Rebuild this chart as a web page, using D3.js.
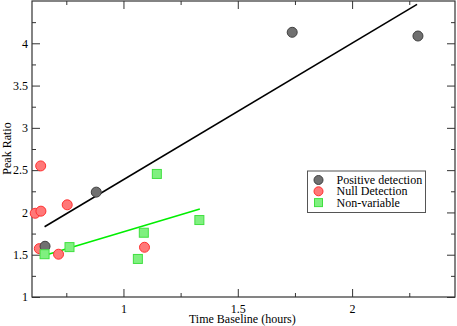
<!DOCTYPE html>
<html>
<head>
<meta charset="utf-8">
<script src="https://cdn.jsdelivr.net/npm/d3@7"></script>
<style>
  body { margin: 0; background: #fff; }
  text { font-family: "Liberation Serif", "DejaVu Serif", serif; }
</style>
</head>
<body>
<div id="chart"></div>
<script>
var svgWidth = 457;
var svgHeight = 326;

// data
var positiveX = [0.657, 0.881, 1.738, 2.288];
var positiveY = [1.60, 2.24, 4.13, 4.086];

var nullX = [0.638, 0.614, 0.639, 0.754, 0.632, 0.716, 1.092];
var nullY = [2.55, 1.99, 2.015, 2.09, 1.572, 1.506, 1.588];

var nonVarX = [0.655, 0.764, 1.063, 1.089, 1.146, 1.332];
var nonVarY = [1.506, 1.59, 1.45, 1.76, 2.455, 1.91];

// fitted lines (end points)
var positiveFitX = [0.655, 2.284];
var positiveFitY = [1.83, 4.46];
var nonVarFitX = [0.646, 1.334];
var nonVarFitY = [1.486, 2.04];

var xTicks = [1, 1.5, 2];
var yTicks = [1, 1.5, 2, 2.5, 3, 3.5, 4];
var legendLabels = ["Positive detection", "Null Detection", "Non-variable"];

var margin = { top: 1, right: 2, bottom: 29, left: 32 };
var width = svgWidth - margin.left - margin.right;
var height = svgHeight - margin.top - margin.bottom;

var svg = d3.select("#chart")
  .append("svg")
  .attr("width", svgWidth)
  .attr("height", svgHeight);

var chartGroup = svg.append("g")
  .attr("transform", `translate(${margin.left}, ${margin.top})`);

var xScale = d3.scaleLinear().domain([0.6, 2.45]).range([0, width]);
var yScale = d3.scaleLinear().domain([1, 4.5]).range([height, 0]);

var minorX = d3.range(0.75, 2.45, 0.25).filter(v => xTicks.indexOf(v) < 0);
var minorY = d3.range(1.25, 4.5, 0.25).filter(v => yTicks.indexOf(v) < 0);

// axes: ticks pointing inward on all four sides
function styleAxis(g) {
  g.select(".domain").remove();
  g.selectAll("line").attr("stroke", "#333").attr("stroke-width", 1);
  g.selectAll("text").attr("font-size", "12px").attr("fill", "#000");
}

chartGroup.append("g")
  .attr("transform", `translate(0, ${height})`)
  .call(d3.axisBottom(xScale).tickValues(xTicks).tickSize(-8).tickPadding(4).tickFormat(d3.format("")))
  .call(styleAxis)
  .selectAll("text").attr("dy", "1em");

chartGroup.append("g")
  .attr("transform", `translate(0, ${height})`)
  .call(d3.axisBottom(xScale).tickValues(minorX).tickSize(-4).tickFormat(""))
  .call(styleAxis);

chartGroup.append("g")
  .call(d3.axisTop(xScale).tickValues(xTicks).tickSize(-8).tickFormat(""))
  .call(styleAxis);

chartGroup.append("g")
  .call(d3.axisTop(xScale).tickValues(minorX).tickSize(-4).tickFormat(""))
  .call(styleAxis);

chartGroup.append("g")
  .call(d3.axisLeft(yScale).tickValues(yTicks).tickSize(-8).tickPadding(4).tickFormat(d3.format("")))
  .call(styleAxis);

chartGroup.append("g")
  .call(d3.axisLeft(yScale).tickValues(minorY).tickSize(-4).tickFormat(""))
  .call(styleAxis);

chartGroup.append("g")
  .attr("transform", `translate(${width}, 0)`)
  .call(d3.axisRight(yScale).tickValues(yTicks).tickSize(-8).tickFormat(""))
  .call(styleAxis);

chartGroup.append("g")
  .attr("transform", `translate(${width}, 0)`)
  .call(d3.axisRight(yScale).tickValues(minorY).tickSize(-4).tickFormat(""))
  .call(styleAxis);

// frame
chartGroup.append("rect")
  .attr("x", 0)
  .attr("y", 0)
  .attr("width", width)
  .attr("height", height)
  .attr("fill", "none")
  .attr("stroke", "#333")
  .attr("stroke-width", 1.2);

// fit lines
var line = d3.line().x(d => xScale(d[0])).y(d => yScale(d[1]));

chartGroup.append("path")
  .attr("d", line(d3.zip(positiveFitX, positiveFitY)))
  .attr("stroke", "#000")
  .attr("stroke-width", 1.6)
  .attr("fill", "none");

chartGroup.append("path")
  .attr("d", line(d3.zip(nonVarFitX, nonVarFitY)))
  .attr("stroke", "#00ee00")
  .attr("stroke-width", 1.6)
  .attr("fill", "none");

// markers
var posStyle = { fill: "#707070", stroke: "#404040" };
var nullStyle = { fill: "#ff7878", stroke: "#ff3030" };
var nonStyle = { fill: "#80f080", stroke: "#40e040" };

function circles(xs, ys, style) {
  chartGroup.selectAll(null)
    .data(d3.zip(xs, ys))
    .enter()
    .append("circle")
    .attr("cx", d => xScale(d[0]))
    .attr("cy", d => yScale(d[1]))
    .attr("r", 5)
    .attr("fill", style.fill)
    .attr("stroke", style.stroke)
    .attr("stroke-width", 1);
}

circles(nullX, nullY, nullStyle);
circles(positiveX, positiveY, posStyle);

chartGroup.selectAll(null)
  .data(d3.zip(nonVarX, nonVarY))
  .enter()
  .append("rect")
  .attr("x", d => xScale(d[0]) - 4.5)
  .attr("y", d => yScale(d[1]) - 4.5)
  .attr("width", 9)
  .attr("height", 9)
  .attr("fill", nonStyle.fill)
  .attr("stroke", nonStyle.stroke)
  .attr("stroke-width", 1);

// legend
var legend = svg.append("g").attr("transform", "translate(307.5, 171)");
legend.append("rect")
  .attr("width", 118)
  .attr("height", 41.5)
  .attr("fill", "#fff")
  .attr("stroke", "#555")
  .attr("stroke-width", 1);

var legendStyles = [posStyle, nullStyle, nonStyle];
legendLabels.forEach(function(label, i) {
  var cy = 9 + i * 11.3;
  if (i < 2) {
    legend.append("circle")
      .attr("cx", 11)
      .attr("cy", cy)
      .attr("r", 4.5)
      .attr("fill", legendStyles[i].fill)
      .attr("stroke", legendStyles[i].stroke);
  } else {
    legend.append("rect")
      .attr("x", 7)
      .attr("y", cy - 4)
      .attr("width", 8)
      .attr("height", 8)
      .attr("fill", legendStyles[i].fill)
      .attr("stroke", legendStyles[i].stroke);
  }
  legend.append("text")
    .attr("x", 29)
    .attr("y", cy + 4)
    .attr("font-size", "12px")
    .text(label);
});

// axis titles
svg.append("text")
  .attr("x", margin.left + xScale(1.52))
  .attr("y", 323)
  .attr("text-anchor", "middle")
  .attr("font-size", "12px")
  .text("Time Baseline (hours)");

svg.append("text")
  .attr("transform", "rotate(-90)")
  .attr("x", -148.5)
  .attr("y", 11)
  .attr("text-anchor", "middle")
  .attr("font-size", "12px")
  .text("Peak Ratio");
</script>
</body>
</html>
